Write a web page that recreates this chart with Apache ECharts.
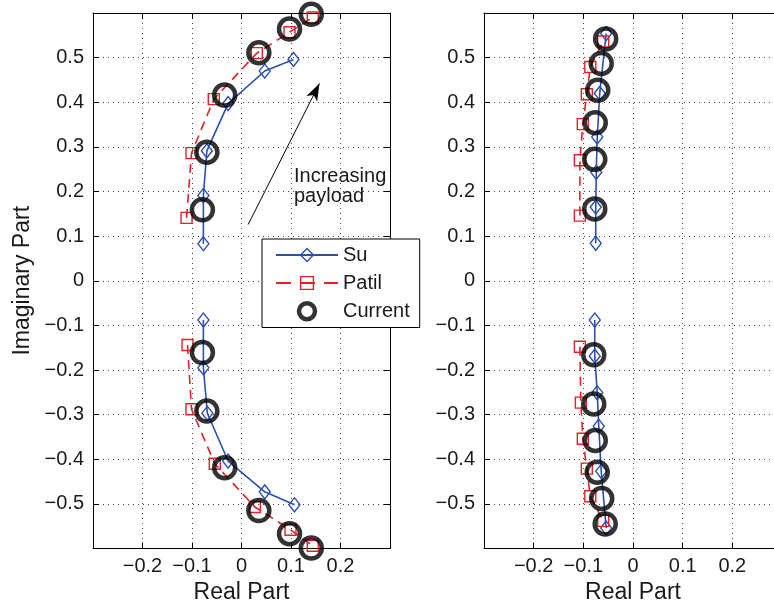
<!DOCTYPE html>
<html>
<head>
<meta charset="utf-8">
<script src="https://cdn.jsdelivr.net/npm/echarts@6/dist/echarts.min.js"></script>
<style>
  html, body { margin: 0; padding: 0; background: #fff; overflow: hidden; }
  #chart { width: 790px; height: 610px; }
</style>
</head>
<body>
<div id="chart"></div>
<script>
// Labelled ticks on both axes
const realTicks = [-0.2, -0.1, 0, 0.1, 0.2];
const imagTicks = [-0.5, -0.4, -0.3, -0.2, -0.1, 0, 0.1, 0.2, 0.3, 0.4, 0.5];

// Left panel: roots (upper six = positive imaginary branch, lower six = conjugate branch)
const leftSuRe = [-0.077, -0.077, -0.070, -0.027, 0.047, 0.105,
                  -0.077, -0.077, -0.069, -0.027, 0.047, 0.107];
const leftSuIm = [0.083, 0.191, 0.291, 0.397, 0.470, 0.496,
                  -0.088, -0.195, -0.297, -0.404, -0.473, -0.502];
const leftPatilRe = [-0.111, -0.101, -0.056, 0.031, 0.097, 0.144,
                     -0.109, -0.101, -0.054, 0.027, 0.099, 0.144];
const leftPatilIm = [0.141, 0.286, 0.407, 0.510, 0.557, 0.590,
                     -0.144, -0.288, -0.410, -0.507, -0.558, -0.594];
const leftCurrentRe = [-0.079, -0.070, -0.034, 0.035, 0.097, 0.141,
                       -0.079, -0.070, -0.034, 0.035, 0.097, 0.141];
const leftCurrentIm = [0.159, 0.288, 0.416, 0.511, 0.564, 0.597,
                       -0.161, -0.292, -0.419, -0.515, -0.567, -0.599];

// Right panel
const rightSuRe = [-0.075, -0.075, -0.074, -0.072, -0.067, -0.054,
                   -0.077, -0.077, -0.072, -0.069, -0.064, -0.054];
const rightSuIm = [0.084, 0.165, 0.243, 0.322, 0.420, 0.554,
                   -0.088, -0.169, -0.251, -0.326, -0.427, -0.554];
const rightPatilRe = [-0.107, -0.107, -0.101, -0.093, -0.086, -0.060,
                      -0.107, -0.105, -0.101, -0.093, -0.086, -0.060];
const rightPatilIm = [0.146, 0.270, 0.351, 0.418, 0.479, 0.536,
                      -0.148, -0.273, -0.354, -0.421, -0.483, -0.538];
const rightCurrentRe = [-0.077, -0.077, -0.076, -0.071, -0.064, -0.055,
                        -0.079, -0.079, -0.076, -0.072, -0.063, -0.056];
const rightCurrentIm = [0.161, 0.272, 0.354, 0.427, 0.487, 0.542,
                        -0.166, -0.276, -0.358, -0.429, -0.488, -0.545];

// Annotation arrow (data coordinates of the left panel)
const arrowFrom = [0.0134, 0.126];
const arrowTo = [0.1575, 0.442];

const FONT = '"Liberation Sans", Arial, Helvetica, sans-serif';
const BLUE = '#2a4fb2';
const RED = '#e42028';
const BLACK = '#000';
const CLEAR = 'rgba(0,0,0,0)';

function pairs(re, im, from, to) {
  const out = [];
  for (let i = from; i < to; i++) out.push([re[i], im[i]]);
  return out;
}

function fmt(list) {
  return function (v) {
    const r = Math.round(v * 10) / 10;
    if (!list.some(t => Math.abs(t - r) < 1e-9)) return '';
    if (r === 0) return '0';
    return (r < 0 ? '\u2212' : '') + Math.abs(r).toFixed(1);
  };
}

// The right panel runs past the visible page edge, so the chart div is wider than the window
const gridBox = [
  { left: 93, top: 13, width: 297, height: 535.5 },
  { left: 484, top: 13, width: 298, height: 535.5 }
];

const dotted = { color: '#444', width: 1, type: [1, 4] };
const tick = { show: true, inside: true, length: 6, lineStyle: { color: '#000', width: 1 } };
const axisLine = { show: true, onZero: false, lineStyle: { color: '#000', width: 1 } };

function mainX(g) {
  return {
    type: 'value', gridIndex: g, position: 'bottom', min: -0.3, max: 0.3, interval: 0.1,
    axisLine, axisTick: tick, splitLine: { show: true, lineStyle: dotted },
    axisLabel: { formatter: fmt(realTicks), fontSize: 20, color: '#1a1a1a', fontFamily: FONT, margin: 8 },
    name: 'Real Part', nameLocation: 'middle', nameGap: 33,
    nameTextStyle: { fontSize: 23, color: '#1a1a1a', fontFamily: FONT }
  };
}
function mainY(g, withName) {
  const a = {
    type: 'value', gridIndex: g, position: 'left', min: -0.6, max: 0.6, interval: 0.1,
    axisLine, axisTick: tick, splitLine: { show: true, lineStyle: dotted },
    axisLabel: { formatter: fmt(imagTicks), fontSize: 20, color: '#1a1a1a', fontFamily: FONT, margin: 9 }
  };
  if (withName) {
    a.name = 'Imaginary Part';
    a.nameLocation = 'middle';
    a.nameGap = 59;
    a.nameTextStyle = { fontSize: 23, color: '#1a1a1a', fontFamily: FONT };
  }
  return a;
}
function mirrorX(g) {
  return { type: 'value', gridIndex: g, position: 'top', min: -0.3, max: 0.3, interval: 0.1,
    axisLine, axisTick: tick, splitLine: { show: false }, axisLabel: { show: false } };
}
function mirrorY(g) {
  return { type: 'value', gridIndex: g, position: 'right', min: -0.6, max: 0.6, interval: 0.1,
    axisLine, axisTick: tick, splitLine: { show: false }, axisLabel: { show: false } };
}

function suSeries(p, data) {
  return {
    type: 'line', name: 'Su', xAxisIndex: p, yAxisIndex: p, data,
    symbol: 'diamond', symbolSize: [11, 14], showSymbol: true,
    itemStyle: { color: CLEAR, borderColor: BLUE, borderWidth: 1.4 },
    lineStyle: { color: BLUE, width: 1.6 }, z: 3, silent: true
  };
}
function patilSeries(p, data) {
  return {
    type: 'line', name: 'Patil', xAxisIndex: p, yAxisIndex: p, data,
    symbol: 'rect', symbolSize: 11, showSymbol: true,
    itemStyle: { color: CLEAR, borderColor: RED, borderWidth: 1.4 },
    lineStyle: { color: RED, width: 1.6, type: [9, 6] }, z: 3, silent: true
  };
}
function currentSeries(p, data, extra) {
  return Object.assign({
    type: 'scatter', name: 'Current', xAxisIndex: p, yAxisIndex: p, data,
    symbol: 'circle', symbolSize: 21, clip: false,
    itemStyle: { color: CLEAR, borderColor: BLACK, borderWidth: 4.5 }, z: 4, silent: true
  }, extra || {});
}

const series = [
  suSeries(0, pairs(leftSuRe, leftSuIm, 0, 6)),
  suSeries(0, pairs(leftSuRe, leftSuIm, 6, 12)),
  patilSeries(0, pairs(leftPatilRe, leftPatilIm, 0, 6)),
  patilSeries(0, pairs(leftPatilRe, leftPatilIm, 6, 12)),
  currentSeries(0, pairs(leftCurrentRe, leftCurrentIm, 0, 12), {
    markLine: {
      silent: true, symbol: ['none', 'arrow'], symbolSize: [9, 17],
      lineStyle: { color: '#000', width: 1, type: 'solid' },
      label: { show: false }, emphasis: { disabled: true },
      data: [[{ coord: arrowFrom }, { coord: arrowTo }]]
    }
  }),
  suSeries(1, pairs(rightSuRe, rightSuIm, 0, 6)),
  suSeries(1, pairs(rightSuRe, rightSuIm, 6, 12)),
  patilSeries(1, pairs(rightPatilRe, rightPatilIm, 0, 6)),
  patilSeries(1, pairs(rightPatilRe, rightPatilIm, 6, 12)),
  currentSeries(1, pairs(rightCurrentRe, rightCurrentIm, 0, 12))
];

const chart = echarts.init(document.getElementById('chart'), null, { renderer: 'canvas' });
chart.setOption({
  animation: false,
  backgroundColor: '#fff',
  grid: gridBox,
  xAxis: [mainX(0), mainX(1), mirrorX(0), mirrorX(1)],
  yAxis: [mainY(0, true), mainY(1, false), mirrorY(0), mirrorY(1)],
  legend: {
    orient: 'vertical', left: 262, top: 239,
    backgroundColor: '#fff', borderColor: '#000', borderWidth: 1, borderRadius: 0,
    padding: [6, 10, 6, 13], itemGap: 8, itemWidth: 62, itemHeight: 16,
    textStyle: { fontSize: 20, color: '#1a1a1a', fontFamily: FONT },
    selectedMode: false,
    data: [
      { name: 'Su', itemStyle: { borderWidth: 1.4 } },
      { name: 'Patil', itemStyle: { borderWidth: 1.4 }, lineStyle: { type: [15, 9] } },
      { name: 'Current', itemStyle: { borderWidth: 4.5 } }
    ]
  },
  graphic: [{
    type: 'text', left: 294, top: 166, silent: true,
    style: { text: 'Increasing\npayload', fontSize: 20, fontFamily: FONT, fill: '#1a1a1a', lineHeight: 20 }
  }],
  series
});
</script>
</body>
</html>
